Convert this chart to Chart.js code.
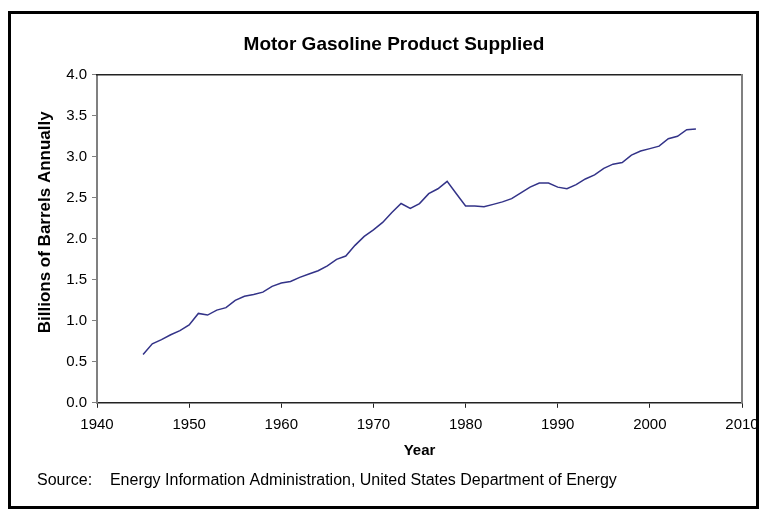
<!DOCTYPE html>
<html><head><meta charset="utf-8">
<script src="https://cdn.jsdelivr.net/npm/chart.js@4/dist/chart.umd.min.js"></script>
<style>html,body{margin:0;padding:0;background:#fff;overflow:hidden}</style>
</head><body>
<canvas id="c" width="767" height="510"></canvas>
<script>
const years = [1945,1946,1947,1948,1949,1950,1951,1952,1953,1954,1955,1956,1957,1958,1959,
  1960,1961,1962,1963,1964,1965,1966,1967,1968,1969,1970,1971,1972,1973,1974,1975,1976,1977,1978,1979,
  1980,1981,1982,1983,1984,1985,1986,1987,1988,1989,1990,1991,1992,1993,1994,1995,1996,1997,1998,1999,
  2000,2001,2002,2003,2004,2005];
const gasoline = [0.59,0.72,0.77,0.83,0.88,0.95,1.09,1.07,1.13,1.16,1.25,1.30,1.32,1.35,1.42,
  1.46,1.48,1.53,1.57,1.61,1.67,1.75,1.79,1.92,2.03,2.11,2.20,2.32,2.43,2.37,2.43,2.55,2.61,2.70,2.55,
  2.40,2.40,2.39,2.42,2.45,2.49,2.56,2.63,2.68,2.68,2.63,2.61,2.66,2.73,2.78,2.86,2.91,2.93,3.02,3.07,
  3.10,3.13,3.22,3.25,3.33,3.34];
const xTicks = [1940,1950,1960,1970,1980,1990,2000,2010];
const yTicks = [0,0.5,1,1.5,2,2.5,3,3.5,4];
const titleText = 'Motor Gasoline Product Supplied';
const xTitle = 'Year';
const yTitle = '       Billions of Barrels Annually';
const sourceText = 'Source:    Energy Information Administration, United States Department of Energy';

Chart.defaults.font.family = "'Liberation Sans', Arial, Helvetica, sans-serif";
Chart.defaults.color = '#000';

const frame = {
  id: 'frame',
  beforeDraw(chart) {
    const ctx = chart.ctx; ctx.save(); ctx.fillStyle = '#fff';
    ctx.fillRect(0, 0, chart.width, chart.height); ctx.restore();
  },
  afterDraw(chart) {
    const ctx = chart.ctx; ctx.save(); ctx.strokeStyle = '#000'; ctx.lineWidth = 3;
    ctx.strokeRect(9.5, 12.5, 748, 495); ctx.restore();
  }
};

new Chart(document.getElementById('c'), {
  type: 'line',
  data: {
    datasets: [{
      data: years.map((y, i) => ({ x: y, y: gasoline[i] })),
      borderColor: '#333388', borderWidth: 1.5, pointRadius: 0, fill: false, tension: 0
    }]
  },
  options: {
    responsive: false, animation: false, events: [],
    layout: { padding: { left: 37, right: 16, top: 0, bottom: 20 } },
    plugins: {
      legend: { display: false }, tooltip: { enabled: false },
      title: { display: true, text: titleText, color: '#000',
        font: { size: 19, weight: 'bold' }, padding: { top: 33, bottom: 19 } },
      subtitle: { display: true, text: sourceText, position: 'bottom', align: 'start', color: '#000',
        font: { size: 16 }, padding: { top: 0, bottom: 0 } }
    },
    scales: {
      x: {
        type: 'linear', position: 'bottom', min: 1940, max: 2010,
        afterBuildTicks: s => { s.ticks = xTicks.map(v => ({ value: v })); },
        afterFit: s => { s.height = 68; },
        ticks: { callback: v => String(v), font: { size: 15 }, color: '#000', padding: 8, maxRotation: 0, autoSkip: false },
        grid: { display: true, drawOnChartArea: false, drawTicks: true, tickLength: 5, color: '#222' },
        border: { display: true, color: '#222', width: 1.5 },
        title: { display: true, text: xTitle, color: '#000', font: { size: 15, weight: 'bold' }, padding: { top: 0, bottom: 11 } }
      },
      y: {
        type: 'linear', position: 'left', min: 0, max: 4,
        afterBuildTicks: s => { s.ticks = yTicks.map(v => ({ value: v })); },
        afterFit: s => { s.width = 60; },
        ticks: { callback: v => Number(v).toFixed(1), font: { size: 15 }, color: '#000', padding: 5 },
        grid: { display: true, drawOnChartArea: false, drawTicks: true, tickLength: 5, color: '#808080' },
        border: { display: true, color: '#808080', width: 2 },
        title: { display: true, text: yTitle, color: '#000', font: { size: 17, weight: 'bold' }, padding: { top: -2, bottom: 0 } }
      },
      x2: {
        type: 'linear', position: 'top', min: 1940, max: 2010,
        ticks: { display: false }, grid: { display: false },
        border: { display: true, color: '#222', width: 1.5 },
        afterFit: s => { s.height = 0; }
      },
      y2: {
        type: 'linear', position: 'right', min: 0, max: 4,
        ticks: { display: false }, grid: { display: false },
        border: { display: true, color: '#808080', width: 2 },
        afterFit: s => { s.width = 9; }
      }
    }
  },
  plugins: [frame]
});
</script>
</body></html>
